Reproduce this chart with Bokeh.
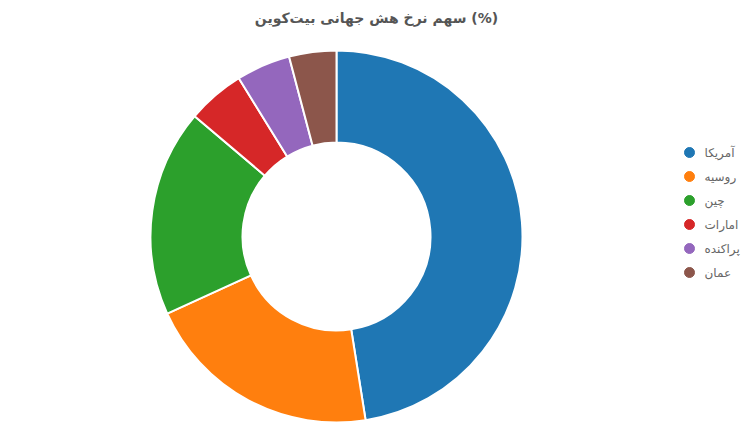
import numpy as np
from bokeh.plotting import figure
from bokeh.models import ColumnDataSource, Range1d
from bokeh.core.properties import value
from bokeh.embed import file_html
from bokeh.resources import INLINE

title_text = "سهم نرخ هش جهانی بیت‌کوین (%)"
countries = ["آمریکا", "روسیه", "چین", "امارات", "پراکنده", "عمان"]
shares = [47.5, 20.7, 18.0, 5.0, 4.7, 4.1]
colors = ["#1f77b4", "#ff7f0e", "#2ca02c", "#d62728", "#9467bd", "#8c564b"]

W, H = 750, 425
p = figure(width=W, height=H, output_backend="svg", toolbar_location=None,
           x_range=Range1d(0, W), y_range=Range1d(0, H),
           min_border=0, outline_line_color=None)
p.axis.visible = False
p.grid.visible = False

vals = np.array(shares, dtype=float)
frac = vals / vals.sum()
cum_end = np.cumsum(frac) * 2 * np.pi
cum_start = cum_end - frac * 2 * np.pi
src = ColumnDataSource(dict(
    start=list(np.pi / 2 - cum_end),
    end=list(np.pi / 2 - cum_start),
    color=colors,
    name=countries,
))

cx, cy = 336, H - 236
p.annular_wedge(x=cx, y=cy, inner_radius=94, outer_radius=186,
                start_angle="start", end_angle="end", direction="anticlock",
                fill_color="color", line_color="white", line_width=2, source=src)

# legend
idx = np.arange(len(countries))
leg = ColumnDataSource(dict(
    x=[689] * len(countries),
    tx=[704] * len(countries),
    y=list(H - 152 - idx * 24),
    color=colors,
    name=countries,
))
p.scatter(x="x", y="y", size=10, fill_color="color", line_color="color", source=leg)
p.text(x="tx", y="y", text="name", source=leg, text_font=value("DejaVu Sans"),
       text_font_size="12px", text_color="#666666", text_baseline="middle",
       text_align="left")

# title
p.text(x=[376], y=[H - 17], text=[title_text], text_font=value("DejaVu Sans"),
       text_font_size="14px", text_font_style="bold", text_color="#555555",
       text_baseline="middle", text_align="center")

open("out.html", "w").write(file_html(p, INLINE))
